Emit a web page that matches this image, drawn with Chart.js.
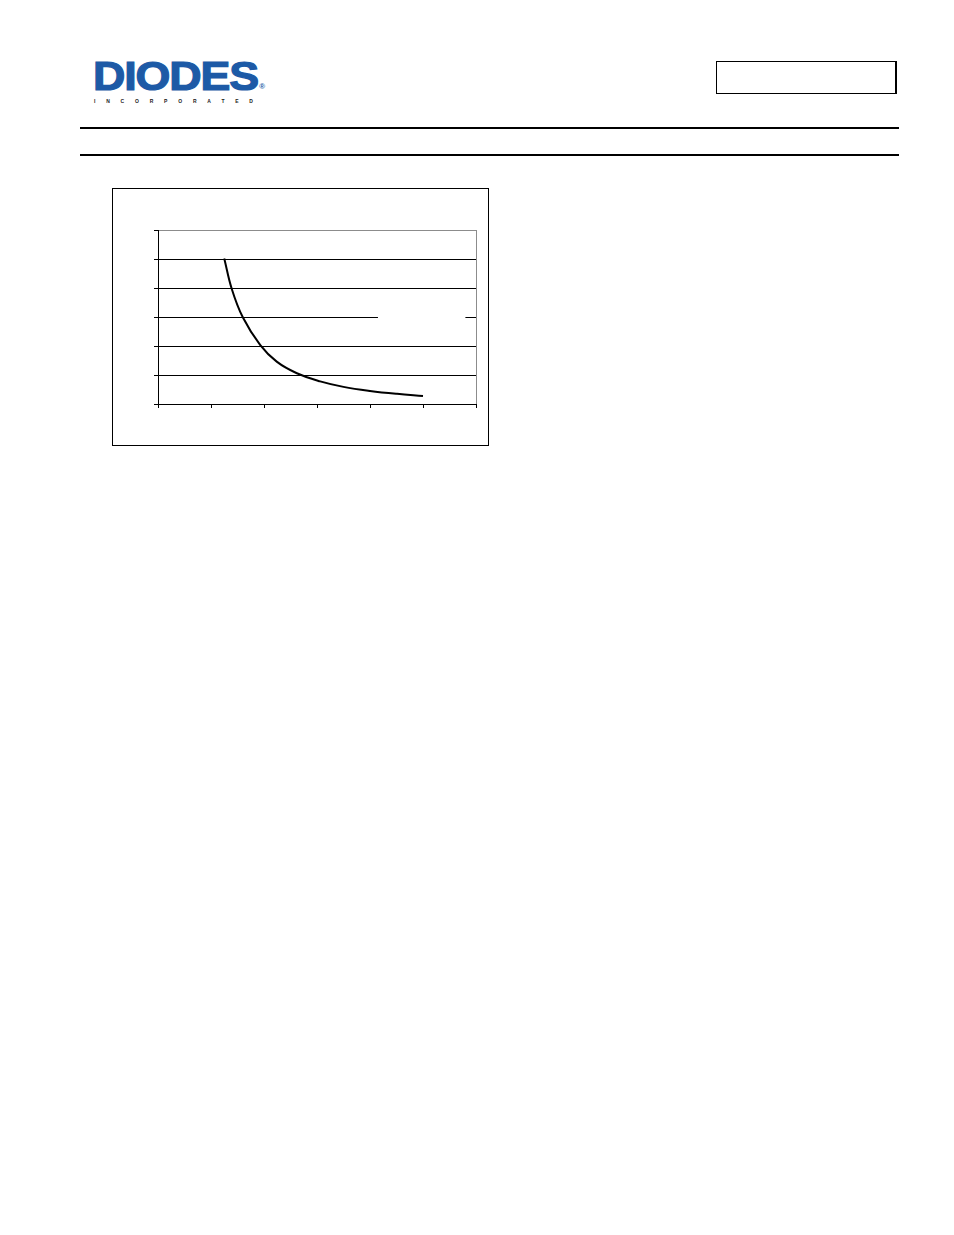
<!DOCTYPE html>
<html>
<head>
<meta charset="utf-8">
<script src="https://cdn.jsdelivr.net/npm/chart.js@4.4.1/dist/chart.umd.min.js"></script>
<style>
  body { margin: 0; background: #fff; width: 954px; height: 1235px; position: relative; font-family: "Liberation Sans", Arial, sans-serif; }
  .logo { position: absolute; left: 93px; top: 56px; color: #1d5aa6; font-weight: bold; font-size: 40px; letter-spacing: -1px; line-height: 40px; height: 40px; -webkit-text-stroke: 1.2px #1d5aa6; transform: scaleX(1.12); transform-origin: left top; }
  .logo sup { font-size: 7px; line-height: 7px; letter-spacing: 0; vertical-align: top; position: relative; top: 27px; left: 1px; -webkit-text-stroke: 0; }
  .inc { position: absolute; left: 94px; top: 99px; color: #222; font-weight: bold; font-size: 5px; line-height: 5px; letter-spacing: 10.8px; }
  .rule { position: absolute; left: 80px; width: 819px; height: 2px; background: #000; }
  .partbox { position: absolute; left: 716px; top: 61px; width: 178px; height: 31px; border: 1px solid #000; border-right-width: 2px; }
  .frame { position: absolute; left: 112px; top: 188px; width: 375px; height: 256px; border: 1px solid #000; }
</style>
</head>
<body>
<div class="logo">DIODES<sup>®</sup></div>
<div class="inc">INCORPORATED</div>
<div class="partbox"></div>
<div class="rule" style="top:127px"></div>
<div class="rule" style="top:154px"></div>
<div class="frame"><canvas id="curve" width="375" height="256"></canvas></div>
<script>
// values (axis labels are not shown in the reference)
const xValues = [1.25, 1.39, 1.60, 1.93, 2.24, 2.62, 3.06, 3.50, 4.00, 4.51, 5.00];
const yValues = [5.02, 3.98, 2.99, 2.03, 1.46, 1.06, 0.78, 0.59, 0.45, 0.35, 0.28];
const xTicks = [0, 1, 2, 3, 4, 5, 6];
const yTicks = [0, 1, 2, 3, 4, 5, 6];

const points = xValues.map((x, i) => ({ x: x, y: yValues[i] }));

// blank strip across the middle gridline, where a hidden legend sits
const legendGap = {
  id: "legendGap",
  beforeDatasetsDraw(chart) {
    const { ctx, scales } = chart;
    const x0 = scales.x.getPixelForValue(4.15);
    const x1 = scales.x.getPixelForValue(5.8);
    const y = scales.y.getPixelForValue(3);
    ctx.save();
    ctx.fillStyle = "#fff";
    ctx.fillRect(x0, y - 3, x1 - x0, 6);
    ctx.restore();
  },
};

new Chart(document.getElementById("curve"), {
  type: "scatter",
  data: {
    datasets: [
      {
        data: points,
        showLine: true,
        borderColor: "#000",
        borderWidth: 2,
        pointRadius: 0,
        tension: 0.4,
      },
    ],
  },
  options: {
    responsive: false,
    animation: false,
    devicePixelRatio: 1,
    layout: { padding: { left: 41, right: 12, top: 41, bottom: 37 } },
    plugins: { legend: { display: false }, tooltip: { enabled: false } },
    scales: {
      x: {
        type: "linear",
        min: xTicks[0],
        max: xTicks[xTicks.length - 1],
        afterBuildTicks: (axis) => { axis.ticks = xTicks.map((v) => ({ value: v })); },
        ticks: { display: false },
        grid: {
          color: (c) => (c.tick && c.tick.value === 6 ? "#8c8c8c" : "rgba(0,0,0,0)"),
          tickColor: "#000",
          tickLength: 4,
        },
        border: { color: "#000", width: 1 },
      },
      y: {
        min: yTicks[0],
        max: yTicks[yTicks.length - 1],
        afterBuildTicks: (axis) => { axis.ticks = yTicks.map((v) => ({ value: v })); },
        ticks: { display: false },
        grid: {
          color: (c) => (c.tick && c.tick.value === 6 ? "#8c8c8c" : "#000"),
          tickColor: "#000",
          tickLength: 4,
        },
        border: { color: "#000", width: 1 },
      },
    },
  },
  plugins: [legendGap],
});
</script>
</body>
</html>
